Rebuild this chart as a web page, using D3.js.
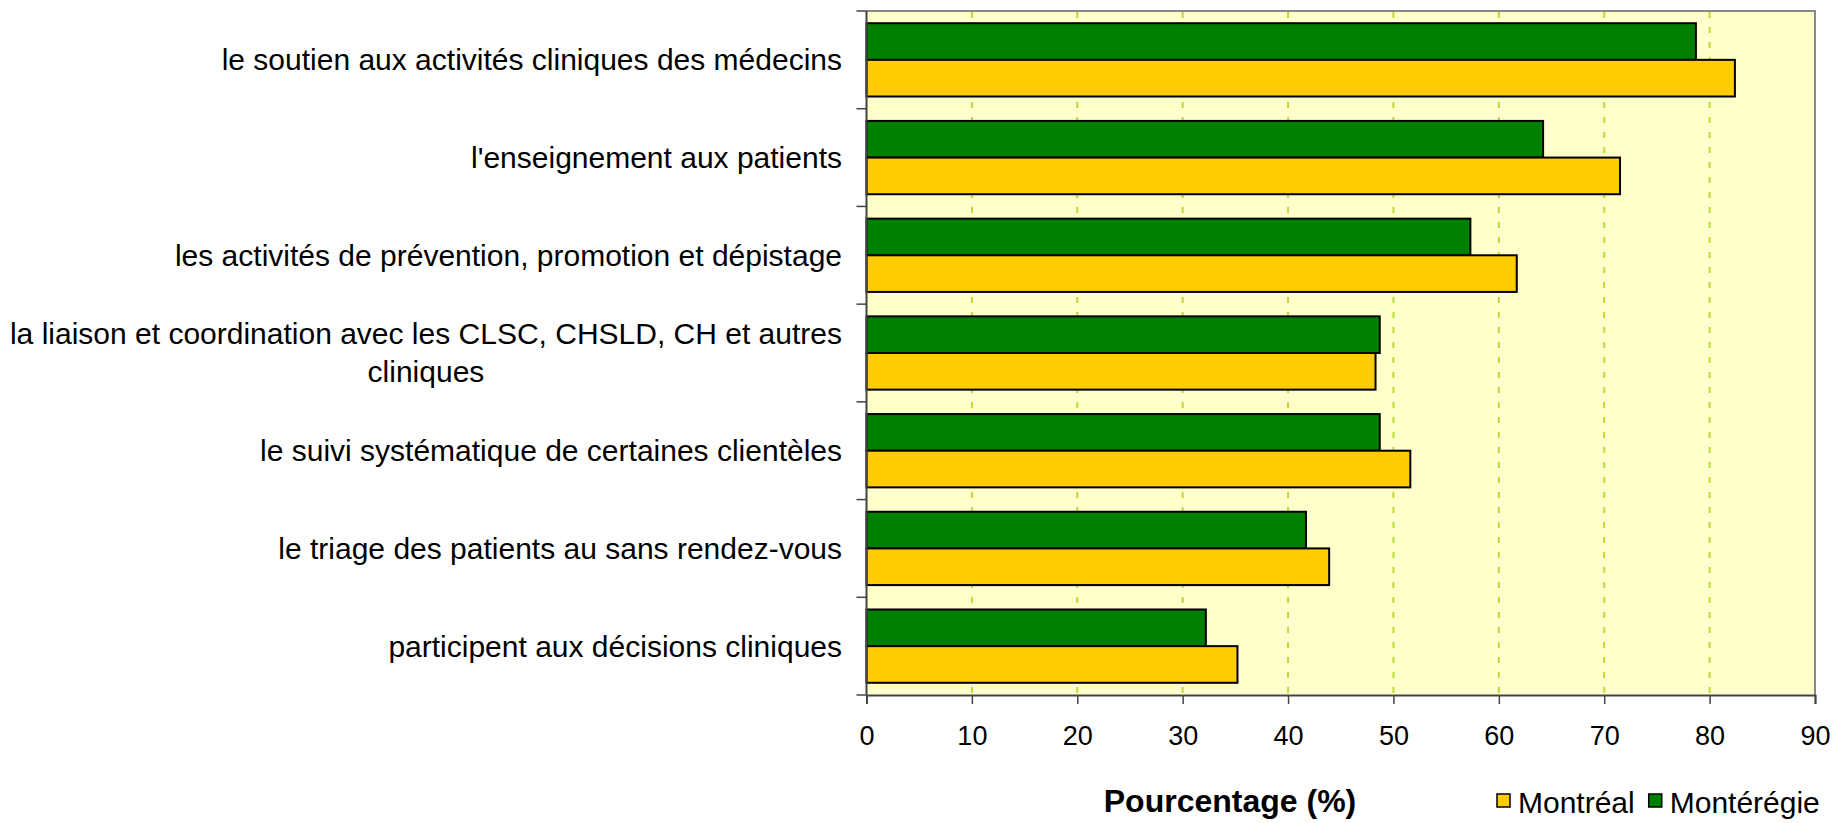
<!DOCTYPE html>
<html>
<head>
<meta charset="utf-8">
<script src="https://cdn.jsdelivr.net/npm/d3@7"></script>
<style>
  body { margin: 0; background: #fff; }
  svg text { font-family: 'Liberation Sans', Arial, sans-serif; fill: #000; }
</style>
</head>
<body>
<svg width="1834" height="823"></svg>
<script>
const categories = [
  ['le soutien aux activités cliniques des médecins'],
  ["l'enseignement aux patients"],
  ['les activités de prévention, promotion et dépistage'],
  ['la liaison et coordination avec les CLSC, CHSLD, CH et autres', 'cliniques'],
  ['le suivi systématique de certaines clientèles'],
  ['le triage des patients au sans rendez-vous'],
  ['participent aux décisions cliniques']
]
const montreal = [82.4, 71.5, 61.7, 48.3, 51.6, 43.9, 35.2]
const monteregie = [78.7, 64.2, 57.3, 48.7, 48.7, 41.7, 32.2]
const xTicks = [0, 10, 20, 30, 40, 50, 60, 70, 80, 90]
const seriesNames = ['Montérégie', 'Montréal']
const seriesColors = { 'Montréal': '#ffcc00', 'Montérégie': '#008000' }

const svg = d3.select('svg')
const m = { left: 866.5, right: 1815, top: 11, bottom: 695 }

const rows = categories.map((c, i) => ({
  key: i,
  lines: c,
  values: { 'Montréal': montreal[i], 'Montérégie': monteregie[i] }
}))

const x = d3.scaleLinear().domain([0, 90]).range([m.left, m.right])
const y0 = d3.scaleBand().domain(rows.map(d => d.key)).range([m.top, m.bottom])
const y1 = d3.scaleBand().domain(seriesNames).range([0, y0.bandwidth()]).paddingOuter(0.333)

// plot background
svg.append('rect')
  .attr('x', m.left).attr('y', m.top)
  .attr('width', m.right - m.left).attr('height', m.bottom - m.top)
  .attr('fill', '#ffffcc')

// dashed grid
svg.append('g')
  .selectAll('line')
  .data(xTicks.slice(1, -1))
  .join('line')
  .attr('x1', d => x(d)).attr('x2', d => x(d))
  .attr('y1', m.top + 1).attr('y2', m.bottom)
  .attr('stroke', '#bcd93a')
  .attr('stroke-width', 2)
  .attr('stroke-dasharray', '6,9')

// plot border top / right
svg.append('path')
  .attr('d', `M${m.left},${m.top}H${m.right}V${m.bottom}`)
  .attr('fill', 'none')
  .attr('stroke', '#888')
  .attr('stroke-width', 2)

// bars
const groups = svg.append('g')
  .selectAll('g')
  .data(rows)
  .join('g')
  .attr('transform', d => `translate(0,${y0(d.key)})`)

groups.selectAll('rect')
  .data(d => seriesNames.map(s => ({ s, v: d.values[s] })))
  .join('rect')
  .attr('x', x(0))
  .attr('y', d => y1(d.s))
  .attr('width', d => x(d.v) - x(0))
  .attr('height', y1.bandwidth())
  .attr('fill', d => seriesColors[d.s])
  .attr('stroke', '#000')
  .attr('stroke-width', 2)

// x axis
const xAxis = svg.append('g')
  .attr('transform', `translate(0,${m.bottom})`)
  .call(d3.axisBottom(x).tickValues(xTicks).tickSize(9).tickPadding(22))
xAxis.select('.domain').attr('stroke', '#444').attr('stroke-width', 2)
xAxis.selectAll('.tick line').attr('stroke', '#444').attr('stroke-width', 1.5)
xAxis.selectAll('.tick text')
  .style('font-family', "'Liberation Sans', Arial, sans-serif")
  .style('font-size', '27px')
  .attr('fill', '#000')

// y axis (category ticks at band edges)
const yEdges = rows.map(d => y0(d.key)).concat([m.bottom])
svg.append('line')
  .attr('x1', m.left).attr('x2', m.left)
  .attr('y1', m.top).attr('y2', m.bottom)
  .attr('stroke', '#444').attr('stroke-width', 2)
svg.append('g')
  .selectAll('line')
  .data(yEdges)
  .join('line')
  .attr('x1', m.left - 10).attr('x2', m.left)
  .attr('y1', d => d).attr('y2', d => d)
  .attr('stroke', '#444').attr('stroke-width', 1.5)

// category labels
const labelRight = 842
const lineH = 38
groups.each(function (d) {
  const g = d3.select(this)
  const cy = y0.bandwidth() / 2
  const n = d.lines.length
  const t = g.append('text')
    .style('font-size', '30px')
    .attr('text-anchor', 'middle')
  d.lines.forEach((line, i) => {
    t.append('tspan')
      .attr('x', 0)
      .attr('y', cy + (i - (n - 1) / 2) * lineH)
      .attr('dy', '0.35em')
      .text(line)
  })
  const w = t.node().getBBox().width
  t.selectAll('tspan').attr('x', labelRight - w / 2)
})

// axis title
svg.append('text')
  .attr('x', 1230).attr('y', 812)
  .attr('text-anchor', 'middle')
  .style('font-size', '32px')
  .style('font-weight', 'bold')
  .text('Pourcentage (%)')

// legend
const legend = svg.append('g').attr('transform', 'translate(1497,813)')
let lx = 0
;['Montréal', 'Montérégie'].forEach(s => {
  legend.append('rect')
    .attr('x', lx).attr('y', -19)
    .attr('width', 13).attr('height', 13)
    .attr('fill', seriesColors[s])
    .attr('stroke', '#000').attr('stroke-width', 1.5)
  const t = legend.append('text')
    .attr('x', lx + 21).attr('y', 0)
    .style('font-size', '30px')
    .text(s)
  lx += 21 + t.node().getComputedTextLength() + 14
})
</script>
</body>
</html>
